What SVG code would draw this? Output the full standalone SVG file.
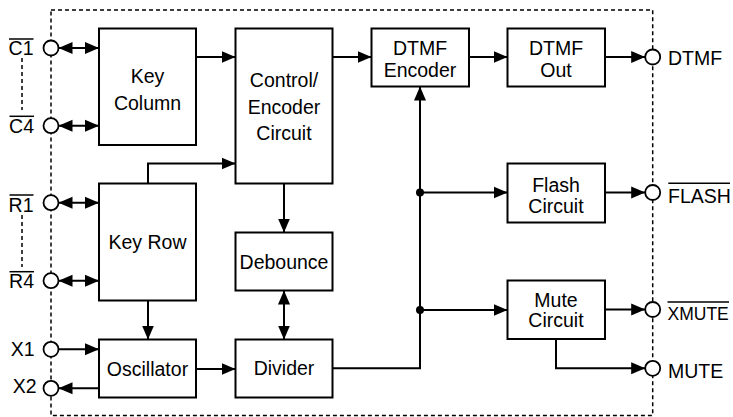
<svg xmlns="http://www.w3.org/2000/svg" width="733" height="417" viewBox="0 0 733 417">
<style>
text{font-family:"Liberation Sans",Arial,sans-serif;font-size:19.5px;fill:#000}
.c{text-anchor:middle}
.e{text-anchor:end}
.box{fill:#fff;stroke:#000;stroke-width:2}
.pin{fill:#fff;stroke:#000;stroke-width:1.8}
.w{fill:none;stroke:#000;stroke-width:2}
.dash{fill:none;stroke:#000;stroke-width:1.5;stroke-dasharray:4 3}
.ov{stroke:#000;stroke-width:1.5}
</style>
<defs>
<marker id="ah" markerUnits="userSpaceOnUse" markerWidth="15" markerHeight="14" refX="14" refY="6.5" orient="auto-start-reverse">
<path d="M0,0.5 L14,6.5 L0,12.5 z" fill="#000"/>
</marker>
</defs>
<rect id="border" class="dash" x="51" y="10" width="601.7" height="405.5"/>
<line class="dash" x1="22" y1="58" x2="22" y2="110"/>
<line class="dash" x1="22" y1="215" x2="22" y2="267"/>
<g id="connectors">
<line class="w" x1="58.5" y1="48" x2="99" y2="48" marker-start="url(#ah)" marker-end="url(#ah)"/>
<line class="w" x1="58.5" y1="125.7" x2="99" y2="125.7" marker-start="url(#ah)" marker-end="url(#ah)"/>
<line class="w" x1="58.5" y1="202.7" x2="99" y2="202.7" marker-start="url(#ah)" marker-end="url(#ah)"/>
<line class="w" x1="58.5" y1="280.7" x2="99" y2="280.7" marker-start="url(#ah)" marker-end="url(#ah)"/>
<line class="w" x1="58.5" y1="349.3" x2="99" y2="349.3" marker-end="url(#ah)"/>
<line class="w" x1="99" y1="388.3" x2="58.5" y2="388.3" marker-end="url(#ah)"/>
<line class="w" x1="196" y1="57" x2="235.5" y2="57" marker-end="url(#ah)"/>
<path class="w" d="M148,183.5 V163.5 H235.5" marker-end="url(#ah)"/>
<line class="w" x1="148" y1="300.5" x2="148" y2="339.5" marker-end="url(#ah)"/>
<line class="w" x1="196" y1="369" x2="235.5" y2="369" marker-end="url(#ah)"/>
<line class="w" x1="284" y1="183.5" x2="284" y2="232.5" marker-end="url(#ah)"/>
<line class="w" x1="284" y1="290.5" x2="284" y2="339.5" marker-start="url(#ah)" marker-end="url(#ah)"/>
<line class="w" x1="332.5" y1="57" x2="371.5" y2="57" marker-end="url(#ah)"/>
<path class="w" d="M332.5,368.3 H420 V86.5" marker-end="url(#ah)"/>
<line class="w" x1="420" y1="192.5" x2="507.5" y2="192.5" marker-end="url(#ah)"/>
<line class="w" x1="420" y1="310" x2="507.5" y2="310" marker-end="url(#ah)"/>
<line class="w" x1="469" y1="57" x2="507.5" y2="57" marker-end="url(#ah)"/>
<line class="w" x1="605" y1="57" x2="645.2" y2="57" marker-end="url(#ah)"/>
<line class="w" x1="605" y1="192.5" x2="645.2" y2="192.5" marker-end="url(#ah)"/>
<line class="w" x1="605" y1="309.5" x2="645.2" y2="309.5" marker-end="url(#ah)"/>
<path class="w" d="M556,339 V368.3 H645.2" marker-end="url(#ah)"/>
<circle cx="420" cy="192.5" r="4"/>
<circle cx="420" cy="310" r="4"/>
</g>
<g id="keycol"><rect class="box" x="99" y="28.5" width="97" height="116.5"/><text class="c" x="147.5" y="83">Key</text><text class="c" x="147.5" y="109.5">Column</text></g>
<g id="control"><rect class="box" x="235.5" y="28.5" width="97" height="155"/><text class="c" x="284" y="87.3">Control/</text><text class="c" x="284" y="114">Encoder</text><text class="c" x="284" y="140">Circuit</text></g>
<g id="dtmfenc"><rect class="box" x="371.5" y="28.5" width="97.5" height="58"/><text class="c" x="420" y="55">DTMF</text><text class="c" x="420" y="77">Encoder</text></g>
<g id="dtmfout"><rect class="box" x="507.5" y="28.5" width="97.5" height="58"/><text class="c" x="556" y="55">DTMF</text><text class="c" x="556" y="77">Out</text></g>
<g id="keyrow"><rect class="box" x="99" y="183.5" width="97" height="117"/><text class="c" x="147.5" y="249">Key Row</text></g>
<g id="debounce"><rect class="box" x="235.5" y="232.5" width="97" height="58"/><text class="c" x="284" y="269.3">Debounce</text></g>
<g id="flash"><rect class="box" x="507.5" y="163.5" width="97.5" height="59"/><text class="c" x="556" y="191.7">Flash</text><text class="c" x="556" y="212.5">Circuit</text></g>
<g id="mute"><rect class="box" x="507.5" y="280.5" width="97.5" height="58.5"/><text class="c" x="556" y="306.7">Mute</text><text class="c" x="556" y="327.3">Circuit</text></g>
<g id="oscillator"><rect class="box" x="99" y="339.5" width="97" height="58"/><text class="c" x="147.5" y="376.3">Oscillator</text></g>
<g id="divider"><rect class="box" x="235.5" y="339.5" width="97" height="58"/><text class="c" x="284" y="375">Divider</text></g>
<g id="pin-c1"><circle class="pin" cx="51" cy="48" r="7.5"/><text class="e" x="33.5" y="55">C1</text><line class="ov" x1="9" y1="39" x2="33.5" y2="39"/></g>
<g id="pin-c4"><circle class="pin" cx="51" cy="125.7" r="7.5"/><text class="e" x="34" y="132.7">C4</text><line class="ov" x1="9.5" y1="116.3" x2="34" y2="116.3"/></g>
<g id="pin-r1"><circle class="pin" cx="51" cy="202.7" r="7.5"/><text class="e" x="33.5" y="211.7">R1</text><line class="ov" x1="9.5" y1="195" x2="33.5" y2="195"/></g>
<g id="pin-r4"><circle class="pin" cx="51" cy="280.7" r="7.5"/><text class="e" x="34" y="288.3">R4</text><line class="ov" x1="9.5" y1="271.7" x2="34" y2="271.7"/></g>
<g id="pin-x1"><circle class="pin" cx="51" cy="349.3" r="7.5"/><text class="e" x="34.5" y="356">X1</text></g>
<g id="pin-x2"><circle class="pin" cx="51" cy="388.3" r="7.5"/><text class="e" x="36.5" y="393.3">X2</text></g>
<g id="pin-dtmf"><circle class="pin" cx="652.7" cy="57" r="7.5"/><text x="668" y="65">DTMF</text></g>
<g id="pin-flash"><circle class="pin" cx="652.7" cy="192.5" r="7.5"/><text x="668" y="203">FLASH</text><line class="ov" x1="668.3" y1="183.3" x2="730" y2="183.3"/></g>
<g id="pin-xmute"><circle class="pin" cx="652.7" cy="309.5" r="7.5"/><text x="667.5" y="320" style="font-size:17.5px">XMUTE</text><line class="ov" x1="667.5" y1="302" x2="729" y2="302"/></g>
<g id="pin-mute"><circle class="pin" cx="652.7" cy="368.3" r="7.5"/><text x="668" y="378.3">MUTE</text></g>
</svg>
